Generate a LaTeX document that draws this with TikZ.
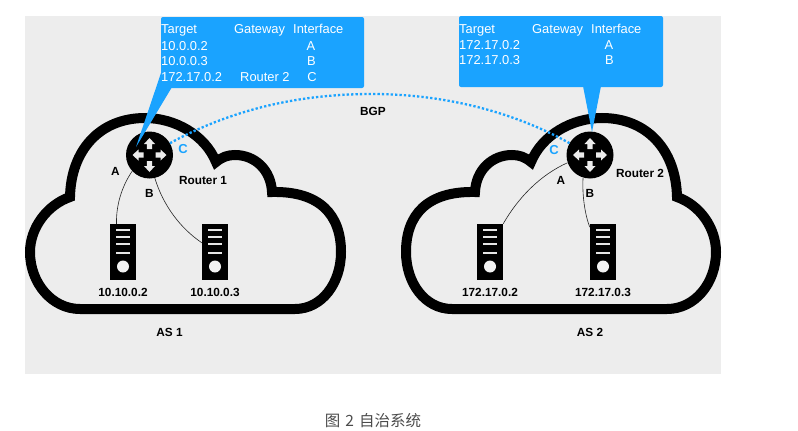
\documentclass[tikz,border=0pt]{standalone}
\usepackage{fontspec}
\setmainfont{Liberation Sans}
\newfontfamily\cjkfont{Noto Sans CJK SC}
\definecolor{bluecall}{HTML}{1AA3FF}
\definecolor{bgpanel}{HTML}{EDEDED}
\tikzset{
  panel/.style={fill=bgpanel,draw=none},
  cloudline/.style={draw=black,line width=10pt,line join=miter,miter limit=6},
  link/.style={draw=black!85,line width=0.6pt},
  bgpline/.style={draw=bluecall,line width=2.3pt,dash pattern=on 2.3pt off 2.1pt},
  routernode/.style={circle,fill=black,draw=none,minimum size=47pt,inner sep=0pt},
  servernode/.style={rectangle,fill=black,draw=none,minimum width=26pt,minimum height=56pt,inner sep=0pt},
  callout/.style={fill=bluecall,draw=none,rounded corners=2pt},
  celltext/.style={anchor=base west,inner sep=0pt,text=white,font=\fontsize{12.9}{14}\selectfont},
  cellmid/.style={anchor=base,inner sep=0pt,text=white,font=\fontsize{12.9}{14}\selectfont},
  blacklabel/.style={inner sep=0pt,text=black,font=\bfseries\fontsize{11.8}{13}\selectfont},
  bluelabel/.style={inner sep=0pt,text=bluecall,font=\bfseries\fontsize{13}{15}\selectfont},
}
\newcommand{\routerglyph}[1]{%
  \begin{scope}[shift={(#1.center)}]
    \foreach \a in {0,90,180,270}{
      \fill[white!92!black,rotate=\a] (17,0) -- (11,-5.5) -- (11,-2.7) -- (6,-2.7) -- (6,2.7) -- (11,2.7) -- (11,5.5) -- cycle;
    }
  \end{scope}}
\newcommand{\serverglyph}[1]{%
  \begin{scope}[shift={(#1.center)}]
    \foreach \yy in {-22,-15,-8,1}{
      \draw[white!90!black,line width=2pt] (-7,\yy) -- (7,\yy);
    }
    \fill[white!95!black] (0,14.5) circle (6);
  \end{scope}}
\begin{document}
\begin{tikzpicture}[x=1pt,y=-1pt]
\useasboundingbox (0,0) rectangle (798,431);
\fill[panel] (25,16) rectangle (721,374);
% clouds
\draw[cloudline] (80,309) -- (295,309) .. controls (322,309) and (341,283) .. (341,252)
  .. controls (341,215) and (320,191) .. (272,192)
  .. controls (271,170) and (255,155) .. (235,155)
  .. controls (228,155) and (222,157) .. (216,162)
  .. controls (205,135) and (175,118) .. (145,118)
  .. controls (100,118) and (71,150) .. (70,197)
  .. controls (47,205) and (30,228) .. (30,252)
  .. controls (30,283) and (52,309) .. (80,309) -- cycle;
\draw[cloudline] (667,309) -- (452,309) .. controls (425,309) and (406,283) .. (406,252)
  .. controls (406,215) and (427,191) .. (475,192)
  .. controls (476,170) and (492,155) .. (512,155)
  .. controls (519,155) and (525,157) .. (531,162)
  .. controls (542,135) and (572,118) .. (602,118)
  .. controls (647,118) and (676,150) .. (677,197)
  .. controls (700,205) and (716,228) .. (716,252)
  .. controls (716,283) and (695,309) .. (667,309) -- cycle;
% nodes
\node[routernode] (r1) at (149.5,155) {};
\node[routernode] (r2) at (590,155) {};
\node[servernode] (s1) at (123,252) {};
\node[servernode] (s2) at (215,252) {};
\node[servernode] (s3) at (490,252) {};
\node[servernode] (s4) at (603,252) {};
\routerglyph{r1}\routerglyph{r2}
\serverglyph{s1}\serverglyph{s2}\serverglyph{s3}\serverglyph{s4}
% links
\draw[link] (r1.223) .. controls (122,186) and (116,205) .. (s1.103);
\draw[link] (r1.283) .. controls (163,205) and (180,228) .. (s2.145);
\draw[link] (r2.199) .. controls (540,175) and (518,198) .. (s3.north east);
\draw[link] (r2.253) .. controls (582,195) and (585,215) .. (s4.118);
\draw[bgpline] (r1.30) .. controls (240,105) and (310,94) .. (372,94)
  .. controls (440,94) and (510,110) .. (r2.150);
% callouts
\fill[callout] (161,17) rectangle (364,88);
\fill[bluecall] (161,73) -- (136,147) -- (172,87) -- cycle;
\fill[callout] (459,16) rectangle (663,87);
\fill[bluecall] (583,86) -- (592,132) -- (601,86) -- cycle;
% table 1
\node[celltext] (ta1) at (161,34) {Target};
\node[celltext] (ta2) at (234,34) {Gateway};
\node[celltext] (ta3) at (293,34) {Interface};
\node[celltext] (ta4) at (161,50) {10.0.0.2};
\node[cellmid]  (ta5) at (311,50) {A};
\node[celltext] (ta6) at (161,65.5) {10.0.0.3};
\node[cellmid]  (ta7) at (311.5,65.5) {B};
\node[celltext] (ta8) at (161,81) {172.17.0.2};
\node[celltext] (ta9) at (240,81) {Router 2};
\node[cellmid]  (ta10) at (312,81) {C};
% table 2
\node[celltext] (tb1) at (459,33) {Target};
\node[celltext] (tb2) at (532,33) {Gateway};
\node[celltext] (tb3) at (591,33) {Interface};
\node[celltext] (tb4) at (459,49) {172.17.0.2};
\node[cellmid]  (tb5) at (609,49) {A};
\node[celltext] (tb6) at (459,64.5) {172.17.0.3};
\node[cellmid]  (tb7) at (609.5,64.5) {B};
% labels
\node[blacklabel] (lbgp) at (373,111) {BGP};
\node[blacklabel] (la1) at (115.5,171) {A};
\node[blacklabel] (lb1) at (149.5,193.5) {B};
\node[bluelabel]  (lc1) at (183,149.5) {C};
\node[blacklabel] (lr1) at (203,180) {Router 1};
\node[blacklabel] (la2) at (561,180) {A};
\node[blacklabel] (lb2) at (590,193.5) {B};
\node[bluelabel]  (lc2) at (554,150) {C};
\node[blacklabel] (lr2) at (640,173) {Router 2};
\node[blacklabel] (ls1) at (123,292) {10.10.0.2};
\node[blacklabel] (ls2) at (215,292) {10.10.0.3};
\node[blacklabel] (ls3) at (490,292) {172.17.0.2};
\node[blacklabel] (ls4) at (603,292) {172.17.0.3};
\node[blacklabel] (las1) at (169.5,332) {AS 1};
\node[blacklabel] (las2) at (590,332) {AS 2};
\node[inner sep=0pt,text=black!70,font=\cjkfont\fontsize{15.5}{18}\selectfont] (cap) at (373,420.5) {图\hspace{5pt}2\hspace{5pt}自治系统};
\end{tikzpicture}
\end{document}
